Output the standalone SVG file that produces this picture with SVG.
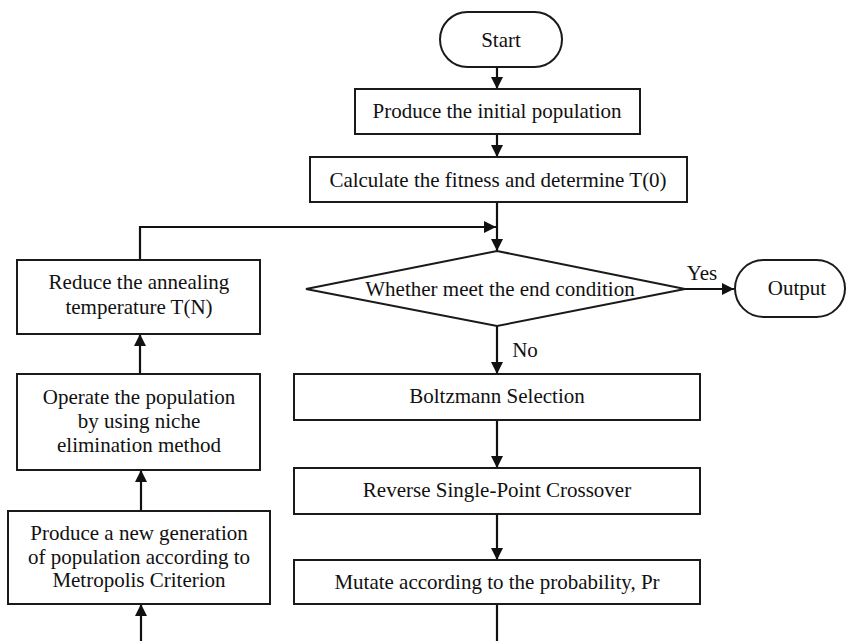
<svg xmlns="http://www.w3.org/2000/svg" width="851" height="641" viewBox="0 0 851 641">
<style>
.box{fill:#fff;stroke:#1a1a1a;stroke-width:2}
.t{font-family:'Liberation Serif','Times New Roman',Times,serif;font-size:21px;fill:#111;text-anchor:middle}
.c{fill:none;stroke:#111;stroke-width:2.2}
</style>
<defs>
<marker id="ah" markerWidth="12" markerHeight="12" viewBox="0 0 12 12" refX="12" refY="6" orient="auto" markerUnits="userSpaceOnUse">
<path d="M0,0 L12,6 L0,12 Z" fill="#111"/>
</marker>
</defs>
<rect width="851" height="641" fill="#fff"/>
<g id="connectors">
<line class="c" x1="497" y1="67" x2="497" y2="89" marker-end="url(#ah)"/>
<line class="c" x1="497" y1="134" x2="497" y2="157" marker-end="url(#ah)"/>
<line class="c" x1="497" y1="202" x2="497" y2="251" marker-end="url(#ah)"/>
<polyline class="c" points="140,260 140,227 496,227" marker-end="url(#ah)"/>
<line class="c" x1="685" y1="289" x2="734" y2="289" marker-end="url(#ah)"/>
<line class="c" x1="497" y1="326" x2="497" y2="374" marker-end="url(#ah)"/>
<line class="c" x1="497" y1="420" x2="497" y2="468" marker-end="url(#ah)"/>
<line class="c" x1="497" y1="514" x2="497" y2="560" marker-end="url(#ah)"/>
<line class="c" x1="497" y1="604" x2="497" y2="641"/>
<line class="c" x1="141" y1="641" x2="141" y2="604" marker-end="url(#ah)"/>
<line class="c" x1="141" y1="511" x2="141" y2="470" marker-end="url(#ah)"/>
<line class="c" x1="140" y1="374" x2="140" y2="334" marker-end="url(#ah)"/>
<text class="t" x="702" y="280">Yes</text>
<text class="t" x="525" y="357">No</text>
</g>
<g id="start">
<rect class="box" x="440" y="12" width="122" height="55" rx="27.5"/>
<text class="t" x="501" y="47">Start</text>
</g>
<g id="init">
<rect class="box" x="355" y="89" width="285" height="45"/>
<text class="t" x="497" y="118">Produce the initial population</text>
</g>
<g id="fitness">
<rect class="box" x="310" y="157" width="377" height="45"/>
<text class="t" x="498" y="187">Calculate the fitness and determine T(0)</text>
</g>
<g id="condition">
<polygon class="box" points="497,251 685,289 497,326 306,289"/>
<text class="t" x="500" y="296">Whether meet the end condition</text>
</g>
<g id="output">
<rect class="box" x="735" y="260" width="110" height="57" rx="28.5"/>
<text class="t" x="797" y="295">Output</text>
</g>
<g id="boltzmann">
<rect class="box" x="294" y="374" width="406" height="46"/>
<text class="t" x="497" y="403">Boltzmann Selection</text>
</g>
<g id="crossover">
<rect class="box" x="294" y="468" width="406" height="46"/>
<text class="t" x="497" y="497">Reverse Single-Point Crossover</text>
</g>
<g id="mutate">
<rect class="box" x="294" y="560" width="406" height="44"/>
<text class="t" x="497" y="589">Mutate according to the probability, Pr</text>
</g>
<g id="reduce">
<rect class="box" x="17" y="260" width="243" height="74"/>
<text class="t" x="139" y="289">Reduce the annealing</text>
<text class="t" x="139" y="314">temperature T(N)</text>
</g>
<g id="niche">
<rect class="box" x="17" y="374" width="243" height="96"/>
<text class="t" x="139" y="404">Operate the population</text>
<text class="t" x="139" y="428">by using niche</text>
<text class="t" x="139" y="452">elimination method</text>
</g>
<g id="metropolis">
<rect class="box" x="8" y="511" width="262" height="93"/>
<text class="t" x="139" y="540">Produce a new generation</text>
<text class="t" x="139" y="564">of population according to</text>
<text class="t" x="139" y="587">Metropolis Criterion</text>
</g>
</svg>
